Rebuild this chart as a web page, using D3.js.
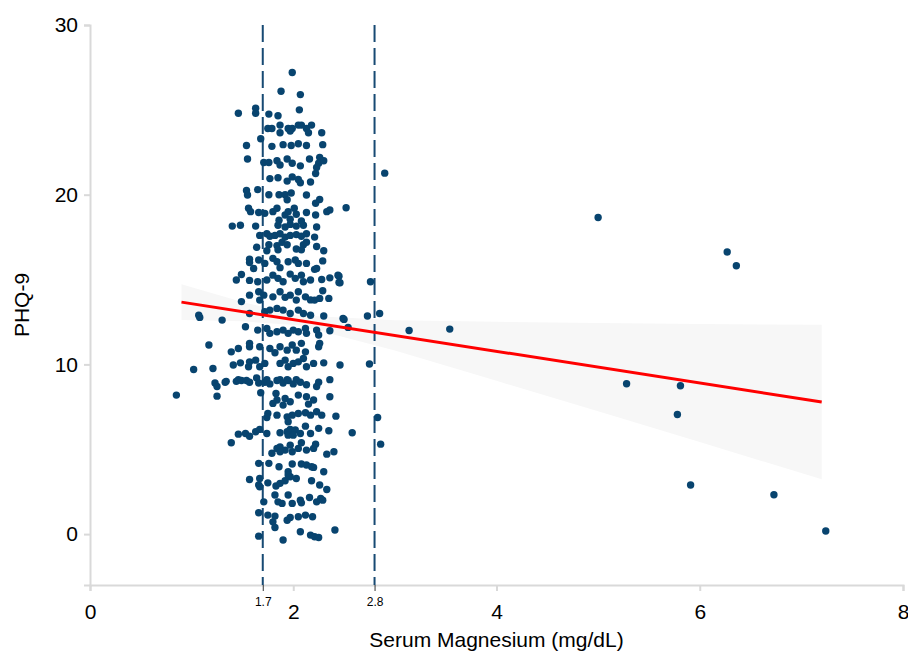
<!DOCTYPE html>
<html lang="en">
<head>
<meta charset="UTF-8">
<title>PHQ-9 vs Serum Magnesium</title>
<script src="https://cdn.jsdelivr.net/npm/d3@7"></script>
<style>
    body { margin: 0; background: #fff; font-family: "Liberation Sans", Arial, sans-serif; }
    .axis path, .axis line { stroke: #d9d9d9; stroke-width: 2; }
    .axis text { fill: #000; font-size: 21px; font-family: "Liberation Sans", Arial, sans-serif; }
</style>
</head>
<body>
<div id="chart"></div>
<script>
// tick values and reference cutoffs
var xTicks = [0, 2, 4, 6, 8];
var yTicks = [0, 10, 20, 30];
var cutoffs = [1.7, 2.8];

// fitted line (ends) and its confidence band
var fitX = [0.9, 7.2];
var fitY = [13.67, 7.78];
var bandX = [0.9, 1.5, 2.05, 3, 4, 5, 6, 7.2];
var bandLo = [12.62, 12.54, 12.3, 10.82, 9.03, 7.24, 5.42, 3.23];
var bandHi = [14.72, 13.68, 12.9, 12.6, 12.51, 12.44, 12.38, 12.33];

// [serum magnesium, PHQ-9 (jittered)]
var points = [
    [1.99,27.2],[1.88,26.1],[2.07,25.9],[1.63,25.1],[2.06,25.0],[1.63,24.8],[1.46,24.8],[1.76,24.75],[1.85,24.65],
    [1.87,24.1],[2.05,24.1],[2.08,24.1],[2.18,24.1],[1.75,23.9],[1.79,23.9],[1.95,23.9],[1.99,23.9],[2.13,23.9],
    [1.87,23.65],[1.97,23.75],[2.15,23.65],[2.28,23.65],[1.68,23.3],
    [1.54,22.9],[1.79,22.85],[1.90,22.95],[1.98,22.9],[2.05,23.0],[2.13,22.9],[2.29,22.95],
    [1.55,22.1],[1.71,21.9],[1.76,21.9],[1.84,22.0],[1.87,21.75],[1.94,22.1],[1.99,21.85],[2.07,21.7],[2.16,22.1],
    [2.26,22.2],[2.25,21.85],[2.30,22.0],[2.23,21.6],[2.90,21.27],
    [1.77,20.95],[1.85,21.0],[1.94,20.8],[1.99,21.05],[2.05,20.9],[2.07,20.7],[2.17,20.75],[2.22,21.25],
    [1.54,20.25],[1.55,19.98],[1.65,20.3],[1.76,20.0],[1.86,20.0],[1.92,20.0],[1.98,20.1],[1.94,19.7],[2.13,19.98],
    [2.26,19.72],[2.22,19.5],
    [1.56,19.2],[1.58,19.0],[1.66,18.95],[1.72,18.9],[1.80,19.0],[1.84,19.2],[1.92,18.8],[1.95,19.0],[2.01,19.2],
    [2.03,18.85],[2.13,18.95],[2.22,18.8],[2.33,19.0],[2.36,19.1],[2.52,19.23],
    [1.40,18.15],[1.48,18.2],[1.63,18.15],[1.85,18.2],[1.92,18.1],[1.97,18.25],[2.03,18.15],[2.10,18.2],[2.23,18.1],
    [1.86,18.5],[1.97,18.55],[2.08,18.45],
    [1.67,17.6],[1.74,17.7],[1.77,17.55],[1.82,17.6],[1.87,17.7],[1.92,17.5],[1.97,17.6],[2.03,17.65],[2.08,17.55],
    [2.13,17.7],[2.21,17.5],
    [1.64,16.9],[1.76,17.05],[1.74,16.7],[1.84,17.0],[1.89,17.2],[1.94,17.05],[1.85,16.75],[2.03,16.8],[2.10,17.05],
    [2.13,17.2],[2.08,16.75],[2.23,16.95],[2.30,16.7],
    [1.57,16.2],[1.57,16.0],[1.66,16.15],[1.61,15.65],[1.72,15.95],[1.80,16.25],[1.84,16.05],[1.87,15.7],[1.95,16.05],
    [2.02,16.15],[2.05,15.95],[2.13,15.95],[2.23,15.65],[2.29,16.1],
    [1.44,14.97],[1.49,15.3],[1.57,14.95],[1.65,14.87],[1.74,14.97],[1.80,15.26],[1.85,15.07],[1.90,14.87],[1.97,15.32],
    [2.02,15.07],[2.08,15.26],[2.10,14.87],[2.17,14.97],[2.21,15.6],[2.28,15.0],[2.36,15.1],[2.44,15.26],[2.46,14.81],
    [2.76,14.87],[2.45,15.2],[2.45,14.83],
    [1.49,13.7],[1.57,14.08],[1.66,14.28],[1.67,13.79],[1.71,14.08],[1.80,13.98],[1.87,14.28],[1.92,13.95],[1.97,14.08],
    [2.05,14.28],[2.03,13.79],[2.12,13.98],[2.17,13.8],[2.21,13.79],[2.29,14.34],[2.26,13.89],[2.35,13.89],
    [1.07,12.9],[1.08,12.77],[1.30,12.61],[1.57,13.0],[1.72,13.1],[1.77,13.2],[1.84,13.3],[1.90,13.2],[1.97,13.0],
    [2.05,13.2],[2.10,13.0],[2.17,12.9],[2.30,12.85],[2.49,12.71],[2.54,12.18],[2.73,12.85],[2.85,13.0],[2.36,11.98],
    [2.50,12.65],
    [1.53,12.22],[1.65,12.02],[1.74,12.12],[1.77,11.83],[1.84,11.92],[1.90,12.02],[1.95,11.83],[2.00,12.02],[2.05,11.92],
    [2.12,12.12],[2.13,11.83],[2.23,12.02],[2.25,11.73],[3.14,12.0],[3.54,12.08],
    [1.17,11.14],[1.39,10.74],[1.46,10.94],[1.57,11.04],[1.57,11.24],[1.67,11.04],[1.77,10.94],[1.82,10.69],[1.87,11.04],
    [1.94,10.84],[1.99,11.14],[2.03,10.84],[2.08,11.24],[2.12,10.74],[2.25,11.04],[2.26,11.24],
    [1.02,9.70],[1.21,9.76],[1.41,9.96],[1.48,10.09],[1.56,9.86],[1.57,10.15],[1.63,10.25],[1.67,9.86],[1.72,10.06],
    [1.87,10.06],[1.92,10.25],[1.95,9.86],[2.00,10.06],[2.05,10.15],[2.10,10.35],[2.13,9.86],[2.20,10.06],[2.30,10.09],
    [2.46,9.96],[2.75,10.02],
    [1.23,8.9],[1.25,8.7],[1.33,8.95],[1.34,9.0],[1.44,9.0],[1.46,9.1],[1.49,9.05],[1.54,9.05],[1.57,8.95],[1.64,9.2],
    [1.66,8.9],[1.72,8.95],[1.74,9.1],[1.77,8.85],[1.84,9.05],[1.87,9.1],[1.90,8.9],[1.94,9.1],[1.95,9.05],[2.00,8.85],
    [2.03,9.1],[2.07,8.95],[2.13,8.8],[2.23,8.7],[2.25,8.95],[2.36,9.1],[0.85,8.19],[1.25,8.13],
    [1.68,8.33],[1.83,8.29],[1.84,7.9],[1.92,7.99],[1.97,7.8],[2.05,8.19],[2.13,8.09],[2.20,7.9],[2.15,7.66],[1.90,7.6],
    [1.80,7.7],[2.36,8.09],
    [1.75,7.11],[1.74,6.87],[1.84,7.01],[1.94,6.91],[1.99,7.01],[2.05,7.11],[2.12,7.15],[2.17,7.01],[2.23,7.21],[2.28,7.01],
    [2.42,6.95],[2.83,6.87],[1.95,6.62],
    [1.39,5.38],[1.46,5.89],[1.53,5.93],[1.57,5.77],[1.63,6.03],[1.67,6.17],[1.74,5.93],[1.87,5.97],[1.94,6.03],[1.97,6.17],
    [2.02,6.13],[2.07,5.93],[2.12,6.36],[2.17,5.93],[2.25,6.23],[2.35,6.09],[2.58,5.97],[2.86,5.3],[1.95,5.83],[2.00,5.83],
    [1.79,4.76],[1.84,5.05],[1.87,5.14],[1.92,4.95],[1.97,5.24],[1.87,4.85],[1.99,4.85],[2.05,5.05],[2.08,5.38],[2.13,4.95],
    [2.20,5.05],[2.22,5.3],[2.33,4.71],[2.40,4.85],
    [1.66,4.17],[1.76,4.17],[1.86,3.97],[1.95,3.67],[1.99,4.13],[2.08,4.13],[2.13,4.07],[2.18,3.97],[2.20,3.93],[2.30,3.67],
    [1.57,3.22],[1.67,3.28],[1.66,2.89],[1.75,3.02],[1.83,2.83],[1.87,2.99],[1.92,3.14],[1.97,3.38],[2.03,3.28],[2.18,3.14],
    [2.26,2.89],[2.33,2.63],[1.67,2.79],[1.95,3.48],
    [1.71,1.90],[1.82,2.30],[1.85,1.90],[1.89,1.81],[1.95,2.30],[1.99,1.81],[2.07,2.0],[2.08,1.84],[2.16,2.16],[2.23,1.90],
    [2.27,2.10],[2.29,2.0],
    [1.66,1.26],[1.75,1.12],[1.82,1.06],[1.80,0.72],[1.82,0.39],[1.94,0.82],[1.97,0.98],[2.05,1.02],[2.12,1.12],[2.19,1.02],
    [1.66,-0.12],[1.90,-0.35],[2.07,0.14],[2.17,-0.06],[2.21,-0.16],[2.25,-0.2],[2.41,0.24],
    [5.0,18.66],[6.27,16.62],[6.36,15.81],[5.28,8.86],[5.81,8.74],[5.78,7.05],[5.91,2.89],[6.73,2.32],[7.24,0.18]
];

var width = 908, height = 652;

var svg = d3.select("#chart").append("svg")
    .attr("width", width)
    .attr("height", height);

var x = d3.scaleLinear().domain([0, 8]).range([90, 903]);
var y = d3.scaleLinear().domain([-3, 30]).range([585, 25]);

// confidence band (very faint in the original)
var band = bandX.map(function (d, i) { return {x: d, lo: bandLo[i], hi: bandHi[i]}; });
svg.append("path")
    .datum(band)
    .attr("fill", "#f7f7f7")
    .attr("d", d3.area()
        .x(function (d) { return x(d.x); })
        .y0(function (d) { return y(d.lo); })
        .y1(function (d) { return y(d.hi); }));

// axes
svg.append("g")
    .attr("class", "axis")
    .attr("transform", "translate(0," + y(-3) + ")")
    .call(d3.axisBottom(x).tickValues(xTicks).tickSizeOuter(0).tickSize(6).tickPadding(13));

svg.append("g")
    .attr("class", "axis")
    .attr("transform", "translate(" + x(0) + ",0)")
    .call(d3.axisLeft(y).tickValues(yTicks).tickSizeOuter(0).tickSize(6).tickPadding(6));

// cutoff labels under the axis
var cut = svg.append("g")
    .attr("transform", "translate(0," + y(-3) + ")")
    .call(d3.axisBottom(x).tickValues(cutoffs).tickSize(6).tickPadding(6).tickFormat(d3.format(".1f")));
cut.select(".domain").remove();
cut.selectAll("line").attr("stroke", "#333");
cut.selectAll("text").attr("font-size", 12).attr("font-family", "Liberation Sans, Arial, sans-serif").attr("fill", "#000");

// dashed cutoff lines
svg.selectAll(".cutline")
    .data(cutoffs)
    .enter().append("line")
    .attr("class", "cutline")
    .attr("x1", function (d) { return x(d); })
    .attr("x2", function (d) { return x(d); })
    .attr("y1", y(30))
    .attr("y2", y(-3))
    .attr("stroke", "#174a73")
    .attr("stroke-width", 2)
    .attr("stroke-dasharray", "17,6");

// points
svg.selectAll(".dot")
    .data(points)
    .enter().append("circle")
    .attr("class", "dot")
    .attr("cx", function (d) { return x(d[0]); })
    .attr("cy", function (d) { return y(d[1]); })
    .attr("r", 3.7)
    .attr("fill", "#08446f");

// fitted line
svg.append("line")
    .attr("x1", x(fitX[0]))
    .attr("y1", y(fitY[0]))
    .attr("x2", x(fitX[1]))
    .attr("y2", y(fitY[1]))
    .attr("stroke", "#ff0000")
    .attr("stroke-width", 3);

// axis titles
svg.append("text")
    .attr("x", (x(0) + x(8)) / 2)
    .attr("y", 647)
    .attr("text-anchor", "middle")
    .attr("font-size", 21)
    .text("Serum Magnesium (mg/dL)");

svg.append("text")
    .attr("transform", "translate(29," + y(13.5) + ") rotate(-90)")
    .attr("text-anchor", "middle")
    .attr("font-size", 21)
    .text("PHQ-9");
</script>
</body>
</html>
